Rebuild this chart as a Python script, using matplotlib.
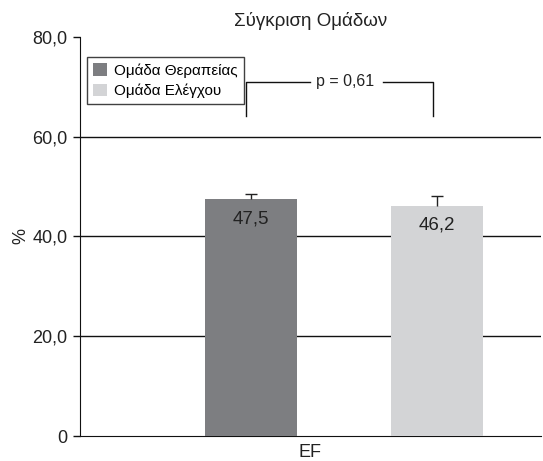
import matplotlib

matplotlib.use("Agg")
import matplotlib.pyplot as plt
from matplotlib.patches import Patch

plt.rcParams["font.family"] = ["Liberation Sans", "DejaVu Sans"]

# data
groups = ["Ομάδα Θεραπείας", "Ομάδα Ελέγχου"]
values = [47.5, 46.2]
errors = [1.1, 2.0]
value_labels = ["47,5", "46,2"]
colors = ["#7d7e81", "#d3d4d6"]
yticks = [0, 20, 40, 60, 80]
ytick_labels = ["0", "20,0", "40,0", "60,0", "80,0"]
category = "EF"
p_text = "p = 0,61"

fig = plt.figure(figsize=(5.43, 4.61), dpi=100)
ax = fig.add_axes([0.147, 0.054, 0.849, 0.866])

xs = [0, 1]
ax.bar(xs, values, width=0.495, color=colors, zorder=3)
# upper error whiskers only
cap = 0.032
for x, v, e in zip(xs, values, errors):
    ax.vlines(x, v, v + e, color="#222", linewidth=1, zorder=4)
    ax.hlines(v + e, x - cap, x + cap, color="#222", linewidth=1, zorder=4)
for x, v, lbl in zip(xs, values, value_labels):
    ax.text(x, v - 3.9, lbl, ha="center", va="center", fontsize=13.5, color="#222", zorder=5)

for v in yticks[1:-1]:
    ax.axhline(v, color="#111", linewidth=1, zorder=1)

ax.set_xlim(-0.917, 1.555)
ax.set_ylim(0, 80)
ax.set_yticks(yticks)
ax.set_yticklabels(ytick_labels, fontsize=13, color="#222")
ax.set_xticks([])
ax.tick_params(axis="y", direction="out", length=5, width=1, color="#111", pad=4)
ax.spines[["top", "right"]].set_visible(False)
for sp in ax.spines.values():
    sp.set_color("#111")
ax.set_ylabel("%", fontsize=13, color="#222", labelpad=2)
ax.text(0.5, -0.02, category, transform=ax.transAxes, ha="center", va="top",
        fontsize=13, color="#222")
ax.set_title("Σύγκριση Ομάδων", fontsize=13.5, color="#222", pad=8)

# p-value bracket
bx0, bx1, by, bbot = -0.027, 0.976, 71.0, 64.1
ax.plot([bx0, bx0, 0.316], [bbot, by, by], color="#111", linewidth=1)
ax.plot([0.708, bx1, bx1], [by, by, bbot], color="#111", linewidth=1)
ax.text(0.505, by, p_text, ha="center", va="center", fontsize=11.5, color="#222")

handles = [Patch(facecolor=c, edgecolor="none") for c in colors]
ax.legend(handles, groups, loc="upper left", bbox_to_anchor=(0.015, 0.95),
          fontsize=11, frameon=True, fancybox=False, edgecolor="#111",
          handlelength=0.9, handleheight=0.9, handletextpad=0.5,
          borderpad=0.4, labelspacing=0.4, borderaxespad=0)

fig.savefig("out.png", dpi=100)
